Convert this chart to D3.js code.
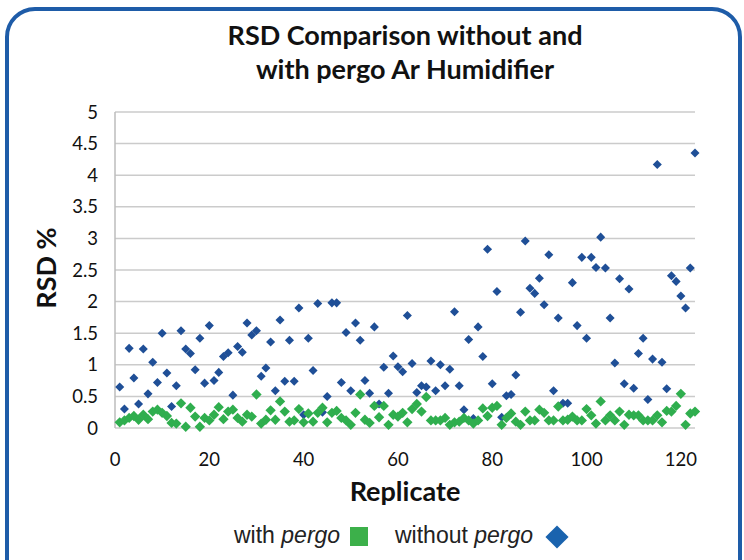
<!doctype html>
<html lang="en">
    <head>
        <meta charset="utf-8">
        <script src="https://d3js.org/d3.v7.min.js"></script>
        <title>RSD Comparison</title>
        <style>
            body { margin: 0; background: #fff; }
        </style>
    </head>
    <body>
        <div id="chart"></div>

        <script>
            // RSD % per replicate (1..123)
            var withPergo = [
                0.09,0.12,0.16,0.19,0.13,0.21,0.14,0.26,0.29,0.24,
                0.19,0.08,0.07,0.39,0.02,0.32,0.18,0.02,0.16,0.12,
                0.21,0.33,0.14,0.26,0.29,0.16,0.10,0.21,0.18,0.53,
                0.07,0.13,0.28,0.13,0.42,0.26,0.10,0.12,0.30,0.09,
                0.23,0.10,0.24,0.32,0.09,0.24,0.27,0.16,0.12,0.05,
                0.24,0.53,0.13,0.08,0.35,0.17,0.35,0.05,0.21,0.18,
                0.24,0.09,0.30,0.38,0.26,0.49,0.12,0.12,0.12,0.16,
                0.05,0.09,0.10,0.16,0.12,0.07,0.12,0.31,0.19,0.32,
                0.35,0.05,0.16,0.23,0.10,0.05,0.26,0.12,0.12,0.29,
                0.24,0.12,0.12,0.34,0.12,0.13,0.18,0.12,0.12,0.30,
                0.20,0.07,0.42,0.12,0.20,0.12,0.26,0.05,0.21,0.20,
                0.20,0.12,0.12,0.12,0.20,0.09,0.27,0.26,0.35,0.54,
                0.05,0.23,0.26
            ]
            var withoutPergo = [
                0.65,0.30,1.26,0.79,0.38,1.25,0.54,1.04,0.72,1.50,
                0.87,0.34,0.67,1.54,1.25,1.18,0.92,1.42,0.71,1.62,
                0.75,0.88,1.13,1.19,0.52,1.29,1.20,1.66,1.47,1.54,
                0.82,0.95,1.36,0.59,1.71,0.74,1.39,0.74,1.90,0.21,
                1.42,0.91,1.97,0.25,0.50,1.98,1.98,0.72,1.51,0.59,
                1.66,1.39,0.75,0.55,1.60,0.38,0.96,0.55,1.14,0.97,
                0.89,1.78,1.02,0.56,0.67,0.65,1.06,0.59,1.00,0.67,
                0.93,1.84,0.67,0.29,1.40,0.15,1.60,1.13,2.83,0.70,
                2.16,0.17,0.51,0.53,0.84,1.83,2.96,2.21,2.13,2.37,
                1.95,2.74,0.59,1.74,0.39,0.39,2.30,1.62,2.70,1.42,
                2.70,2.54,3.02,2.53,1.74,1.03,2.36,0.70,2.20,0.63,
                1.18,1.42,0.45,1.09,4.17,1.04,0.62,2.41,2.32,2.09,
                1.90,2.53,4.35
            ]
            var xTicks = [0, 20, 40, 60, 80, 100, 120]
            var yTicks = [0, 0.5, 1, 1.5, 2, 2.5, 3, 3.5, 4, 4.5, 5]

            var width = 744
            var height = 560

            var svg = d3.select("#chart")
                .append("svg")
                .attr("width", width)
                .attr("height", height)

            // rounded blue frame
            svg.append("rect")
                .attr("x", 7).attr("y", 9)
                .attr("width", 733).attr("height", 580)
                .attr("rx", 28)
                .attr("fill", "none")
                .attr("stroke", "#1e5ca8")
                .attr("stroke-width", 4)

            var x = d3.scaleLinear().domain([0, 123]).range([115, 695])
            var y = d3.scaleLinear().domain([0, 5]).range([428, 112])

            // gridlines
            svg.append("g")
                .selectAll("line")
                .data(yTicks)
                .enter()
                .append("line")
                    .attr("x1", x(0)).attr("x2", x(123))
                    .attr("y1", function(d){ return y(d) })
                    .attr("y2", function(d){ return y(d) })
                    .attr("stroke", "#cbcbcb")
                    .attr("stroke-width", 1.5)

            // y axis line
            svg.append("line")
                .attr("x1", x(0)).attr("x2", x(0))
                .attr("y1", y(0)).attr("y2", y(5))
                .attr("stroke", "#bdbdbd")
                .attr("stroke-width", 1.5)

            var tickFont = "Lato, 'Open Sans', sans-serif"

            svg.append("g")
                .selectAll("text")
                .data(yTicks)
                .enter()
                .append("text")
                    .attr("x", 98)
                    .attr("y", function(d){ return y(d) + 6.5 })
                    .attr("text-anchor", "end")
                    .style("font-family", tickFont)
                    .style("font-size", "18.5px")
                    .style("fill", "#111")
                    .text(function(d){ return d })

            svg.append("g")
                .selectAll("text")
                .data(xTicks)
                .enter()
                .append("text")
                    .attr("x", function(d){ return x(d) })
                    .attr("y", 466)
                    .attr("text-anchor", "middle")
                    .style("font-family", tickFont)
                    .style("font-size", "18.5px")
                    .style("fill", "#111")
                    .text(function(d){ return d })

            // titles
            var title = svg.append("text")
                .attr("text-anchor", "middle")
                .style("font-family", tickFont)
                .style("font-weight", "bold")
                .style("font-size", "27px")
                .style("fill", "#111")
            title.append("tspan").attr("x", 405).attr("y", 45).text("RSD Comparison without and")
            title.append("tspan").attr("x", 405).attr("y", 79).text("with pergo Ar Humidifier")

            svg.append("text")
                .attr("x", 405).attr("y", 501)
                .attr("text-anchor", "middle")
                .style("font-family", tickFont)
                .style("font-weight", "bold")
                .style("font-size", "27px")
                .style("fill", "#111")
                .text("Replicate")

            svg.append("text")
                .attr("transform", "translate(56,268) rotate(-90)")
                .attr("text-anchor", "middle")
                .style("font-family", tickFont)
                .style("font-weight", "bold")
                .style("font-size", "27px")
                .style("fill", "#111")
                .text("RSD %")

            var diamond = d3.symbol().type(d3.symbolDiamond2)

            // without pergo (blue) drawn first, green sits on top
            svg.append("g")
                .selectAll("path")
                .data(withoutPergo)
                .enter()
                .append("path")
                    .attr("d", diamond.size(52)())
                    .attr("transform", function(d, i){ return "translate(" + x(i + 1) + "," + y(d) + ")" })
                    .attr("fill", "#1f4f97")

            svg.append("g")
                .selectAll("path")
                .data(withPergo)
                .enter()
                .append("path")
                    .attr("d", diamond.size(68)())
                    .attr("transform", function(d, i){ return "translate(" + x(i + 1) + "," + y(d) + ")" })
                    .attr("fill", "#2fae4e")

            // legend
            var legendFont = "'Liberation Sans', Arial, sans-serif"
            var leg1 = svg.append("text")
                .attr("x", 234).attr("y", 543)
                .style("font-family", legendFont)
                .style("font-size", "23px")
                .style("fill", "#222")
            leg1.append("tspan").text("with ")
            leg1.append("tspan").style("font-style", "italic").text("pergo")

            svg.append("rect")
                .attr("x", 350).attr("y", 527)
                .attr("width", 18).attr("height", 19)
                .attr("fill", "#3cb04a")

            var leg2 = svg.append("text")
                .attr("x", 395).attr("y", 543)
                .style("font-family", legendFont)
                .style("font-size", "23px")
                .style("fill", "#222")
            leg2.append("tspan").text("without ")
            leg2.append("tspan").style("font-style", "italic").text("pergo")

            svg.append("path")
                .attr("d", diamond.size(340)())
                .attr("transform", "translate(557,537)")
                .attr("fill", "#1a63ae")
        </script>
    </body>
</html>
